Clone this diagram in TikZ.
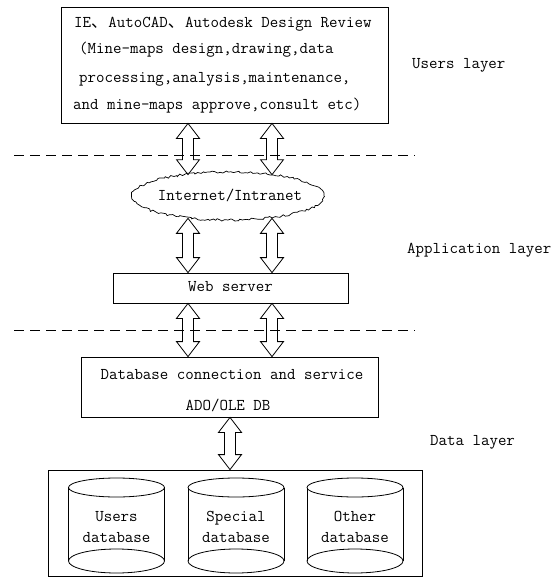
\documentclass[tikz,border=0pt]{standalone}
\usepackage{fontspec}
\newfontfamily\cjk{Noto Sans CJK SC}
\usetikzlibrary{calc,shapes.geometric,decorations.pathmorphing}

% full-width enumeration comma
\newcommand\dun{\makebox[17.3pt][l]{\cjk\fontsize{16.5}{21}\selectfont 、}}

% hollow two-headed block arrow between two named points (first above second)
\newcommand\twoway[2]{%
  \draw[hollow] let \p1=(#1), \p2=(#2) in
    (\x1,\y1) -- ({\x1+11.5pt},{\y1-15pt}) -- ({\x1+5.5pt},{\y1-15pt})
    -- ({\x1+5.5pt},{\y2+15pt}) -- ({\x1+11.5pt},{\y2+15pt}) -- (\x2,\y2)
    -- ({\x1-11.5pt},{\y2+15pt}) -- ({\x1-5.5pt},{\y2+15pt})
    -- ({\x1-5.5pt},{\y1-15pt}) -- ({\x1-11.5pt},{\y1-15pt}) -- cycle;}

% database drum: name, centre x, label
\newcommand\drum[3]{%
  \draw[frame] (#2,487.5) ellipse [x radius=48, y radius=9.5];
  \draw[frame] (#2,561) ellipse [x radius=48, y radius=12];
  \draw[frame] (#2-48,487.5) -- (#2-48,561) (#2+48,487.5) -- (#2+48,561);
  \node[txt, align=center] (#1) at (#2,527) {#3};}

\begin{document}
\begin{tikzpicture}[x=1pt, y=-1pt,
  frame/.style={draw=black, line width=0.8pt},
  hollow/.style={draw=black, line width=0.8pt, line join=miter},
  txt/.style={inner sep=0pt, font=\ttfamily\fontsize{16.46}{21}\selectfont},
  boxnode/.style={frame, rectangle, inner sep=0pt},
  layer/.style={txt, anchor=west},
  sep/.style={draw=black, line width=0.8pt, dash pattern=on 10pt off 6pt}]
\useasboundingbox (0,0) rectangle (555,578);
\pgfmathsetseed{11}

% columns of the arrows
\coordinate (xl) at (188,0);
\coordinate (xr) at (272,0);
\coordinate (xm) at (230,0);

% users layer
\node[boxnode, minimum width=327pt, minimum height=116pt] (top) at (224.5,65) {};
\node[txt, anchor=west] (t1) at (74,24) {IE\dun AutoCAD\dun Autodesk Design Review};
\node[txt, anchor=west] (t2) at (79,50) {(Mine-maps design,drawing,data};
\node[txt, anchor=west] (t3) at (79,79) {processing,analysis,maintenance,};
\node[txt, anchor=west] (t4) at (73,106) {and mine-maps approve,consult etc)};

% network cloud
\node[ellipse, draw=black, line width=0.7pt, minimum width=192pt, minimum height=48pt,
      decorate, decoration={random steps, segment length=2.5pt, amplitude=1.2pt}]
      (cloud) at (228,196) {};
\node[txt] (net) at (230,195) {Internet/Intranet};

% application layer
\node[boxnode, minimum width=235pt, minimum height=30pt] (web) at (230.5,288) {};
\node[txt] (webt) at (230.5,287) {Web server};

% data access
\node[boxnode, minimum width=297pt, minimum height=60pt] (dbc) at (229.5,387) {};
\node[txt] (dbct) at (232,375) {Database connection and service};
\node[txt] (ado) at (228,405) {ADO/OLE DB};

% storage
\node[boxnode, minimum width=374pt, minimum height=106pt] (store) at (235,523) {};
\drum{users}{116.5}{Users\\database}
\drum{special}{236}{Special\\database}
\drum{other}{355}{Other\\database}

% layer separators
\coordinate (s1a) at (14,155); \coordinate (s1b) at (415,155);
\coordinate (s2a) at (14,330); \coordinate (s2b) at (415,330);
\draw[sep] (s1a) -- (s1b);
\draw[sep] (s2a) -- (s2b);

% layer labels
\node[layer] (lu) at (412,65) {Users layer};
\node[layer] (la) at (407,250) {Application layer};
\node[layer] (ld) at (430,442) {Data layer};

% arrow end points
\coordinate (a1) at (top.south -| xl);
\coordinate (b1) at ($(xl |- cloud.north)+(0,3)$);
\coordinate (a2) at (top.south -| xr);
\coordinate (b2) at ($(xr |- cloud.north)+(0,3)$);
\coordinate (a3) at ($(xl |- cloud.south)+(0,-2)$);
\coordinate (b3) at (web.north -| xl);
\coordinate (a4) at ($(xr |- cloud.south)+(0,-2)$);
\coordinate (b4) at (web.north -| xr);
\twoway{a1}{b1}
\twoway{a2}{b2}
\twoway{a3}{b3}
\twoway{a4}{b4}
\twoway{web.south -| xl}{dbc.north -| xl}
\twoway{web.south -| xr}{dbc.north -| xr}
\twoway{dbc.south -| xm}{store.north -| xm}
\end{tikzpicture}
\end{document}
